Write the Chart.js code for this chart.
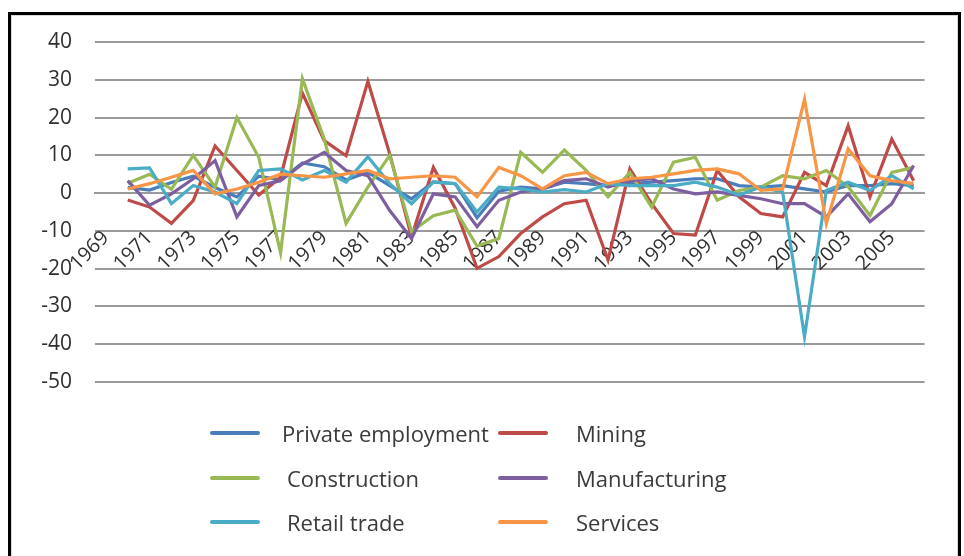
<!DOCTYPE html>
<html>
<head>
<meta charset="utf-8">
<script src="https://cdn.jsdelivr.net/npm/chart.js@4.4.1/dist/chart.umd.min.js"></script>
<style>
  html, body { margin: 0; padding: 0; background: #fff; }
  body { width: 964px; height: 556px; position: relative; overflow: hidden; font-family: "Open Sans", sans-serif; }
  #frame { position: absolute; left: 8px; top: 12px; width: 953px; height: 560px; border: 3px solid #000; box-sizing: border-box; }
  #inner { position: absolute; left: 11px; top: 15px; width: 947px; height: 560px; border: 1px solid #d8d8d8; box-sizing: border-box; }
  #wrap { position: absolute; left: 0; top: 0; width: 964px; height: 556px; }
  #legend { position: absolute; left: 0; top: 0; width: 964px; height: 556px; pointer-events: none; }
  .item { position: absolute; height: 30px; display: flex; align-items: center; font-size: 22px; color: #3a3a3a; white-space: nowrap; }
  .swatch { display: inline-block; width: 50px; height: 4px; border-radius: 2px; }
</style>
</head>
<body>
<div id="frame"></div>
<div id="inner"></div>
<div id="wrap"><canvas id="c" width="964" height="556"></canvas></div>
<div id="legend"></div>
<script>
const years = ['1969','1970','1971','1972','1973','1974','1975','1976','1977','1978','1979','1980','1981','1982','1983','1984','1985','1986','1987','1988','1989','1990','1991','1992','1993','1994','1995','1996','1997','1998','1999','2000','2001','2002','2003','2004','2005','2006'];

const privateEmployment = [null, 1.5, 0.8, 2.8, 4.5, 1.5, -1, 4.5, 3.5, 8, 7, 3.5, 5.5, 2, -1.5, 3, 2.5, -6.5, 0.5, 1.6, 1.1, 2.9, 2.5, 2, 2.5, 2.9, 3.3, 3.8, 3.8, 2, 1.6, 2, 1.1, 0.3, 2, 2, 2.5, 2];
const mining = [null, -1.8, -3.7, -8, -2, 12.5, 6, -0.5, 4.2, 26.5, 13.9, 9.9, 29.6, 10.4, -11.6, 6.8, -4, -19.9, -16.8, -10.7, -6.3, -2.8, -1.9, -17.7, 6.4, -2.8, -10.7, -11.1, 6, -1, -5.4, -6.3, 5.5, 2, 17.8, -1, 14.3, 3.3];
const construction = [null, 2.6, 5, 1, 10, 1.6, 20, 9.5, -15.8, 30.3, 14.3, -8, 1.6, 10, -10.2, -6, -4.5, -14, -12, 10.8, 5.5, 11.4, 6, -1, 5.5, -3.7, 8.2, 9.5, -1.9, 0.7, 1.6, 4.6, 3.8, 6, 1.7, -5.9, 5.5, 6.8];
const manufacturing = [null, 3.3, -3.2, -0.2, 3.8, 8.6, -6.3, 2, 3.3, 7.7, 10.8, 6, 4.6, -4.6, -12, -0.2, -1, -8.9, -1.9, 0.3, 1.1, 3.3, 3.8, 1.6, 3.3, 3.8, 1.1, -0.2, 0.3, -0.6, -1.5, -2.8, -2.8, -6.3, -0.2, -7.6, -2.8, 7.3];
const retailTrade = [null, 6.4, 6.7, -2.8, 2, 0.3, -2.8, 6, 6.4, 3.5, 6, 2.9, 9.6, 2.5, -2.8, 2.9, 2.5, -5, 1.6, 1.1, 0.3, 0.9, 0.3, 2.5, 2, 2, 2, 2.9, 1.6, -0.5, 1.6, 0.3, -38, 0.7, 2.9, 0.7, 4.6, 1.1];
const services = [null, 1.1, 2.5, 4.2, 6, -0.2, 1.1, 2.9, 5, 4.6, 4.2, 5.1, 6, 3.8, 4.2, 4.6, 4.2, -1, 6.8, 4.6, 1.1, 4.6, 5.5, 2.5, 3.8, 4.2, 5.1, 6, 6.4, 5.1, 0.7, 1.1, 24.8, -8.1, 11.7, 4.6, 3.3, 2.5];

const seriesNames = ['Private employment', 'Mining', 'Construction', 'Manufacturing', 'Retail trade', 'Services'];
const seriesData = [privateEmployment, mining, construction, manufacturing, retailTrade, services];
const seriesColors = ['#4A7EBB', '#BE4B48', '#98B954', '#7D5FA0', '#4BACC6', '#F79646'];
const yTicks = [40, 30, 20, 10, 0, -10, -20, -30, -40, -50];

const datasets = seriesNames.map((name, i) => ({
  label: name,
  data: seriesData[i],
  borderColor: seriesColors[i],
  backgroundColor: seriesColors[i],
  borderWidth: 3.2,
  pointRadius: 0,
  tension: 0,
  fill: false,
  order: seriesNames.length - i
}));

const chart = new Chart(document.getElementById('c'), {
  type: 'line',
  data: { labels: years, datasets },
  options: {
    responsive: false,
    animation: false,
    layout: { padding: { left: 0, top: 42, right: 29, bottom: 174 } },
    plugins: { legend: { display: false }, tooltip: { enabled: false } },
    scales: {
      x: {
        type: 'category',
        offset: true,
        position: { y: 0 },
        z: 1,
        grid: { display: false, drawTicks: false },
        border: { display: true, color: '#9a9a9a', width: 2 },
        ticks: {
          autoSkip: false,
          minRotation: 45,
          maxRotation: 45,
          padding: 33,
          color: '#2f2f2f',
          font: { family: 'Open Sans', size: 20 },
          callback: function(v, idx) { return idx % 2 === 0 ? years[idx] : ''; }
        }
      },
      y: {
        min: Math.min(...yTicks),
        max: Math.max(...yTicks),
        afterFit: s => { s.width = 95; },
        afterBuildTicks: s => { s.ticks = yTicks.map(v => ({ value: v })); },
        grid: { color: '#9a9a9a', lineWidth: 2, drawTicks: false },
        border: { display: false },
        ticks: {
          padding: 23,
          color: '#2f2f2f',
          font: { family: 'Open Sans', size: 21 }
        }
      }
    }
  }
});

// HTML legend in two columns, three rows, built from the chart's datasets
const legendEl = document.getElementById('legend');
const colX = [210, 498];
const rowY = [433, 478, 522];
chart.data.datasets.forEach((ds, i) => {
  const col = i % 2, row = Math.floor(i / 2);
  const item = document.createElement('div');
  item.className = 'item';
  item.style.left = colX[col] + 'px';
  item.style.top = (rowY[row] - 15) + 'px';
  const sw = document.createElement('span');
  sw.className = 'swatch';
  sw.style.background = ds.borderColor;
  const tx = document.createElement('span');
  tx.textContent = ds.label;
  tx.style.marginLeft = (col === 0 ? (i === 0 ? 22 : 27) : 28) + 'px';
  item.appendChild(sw);
  item.appendChild(tx);
  legendEl.appendChild(item);
});
</script>
</body>
</html>
